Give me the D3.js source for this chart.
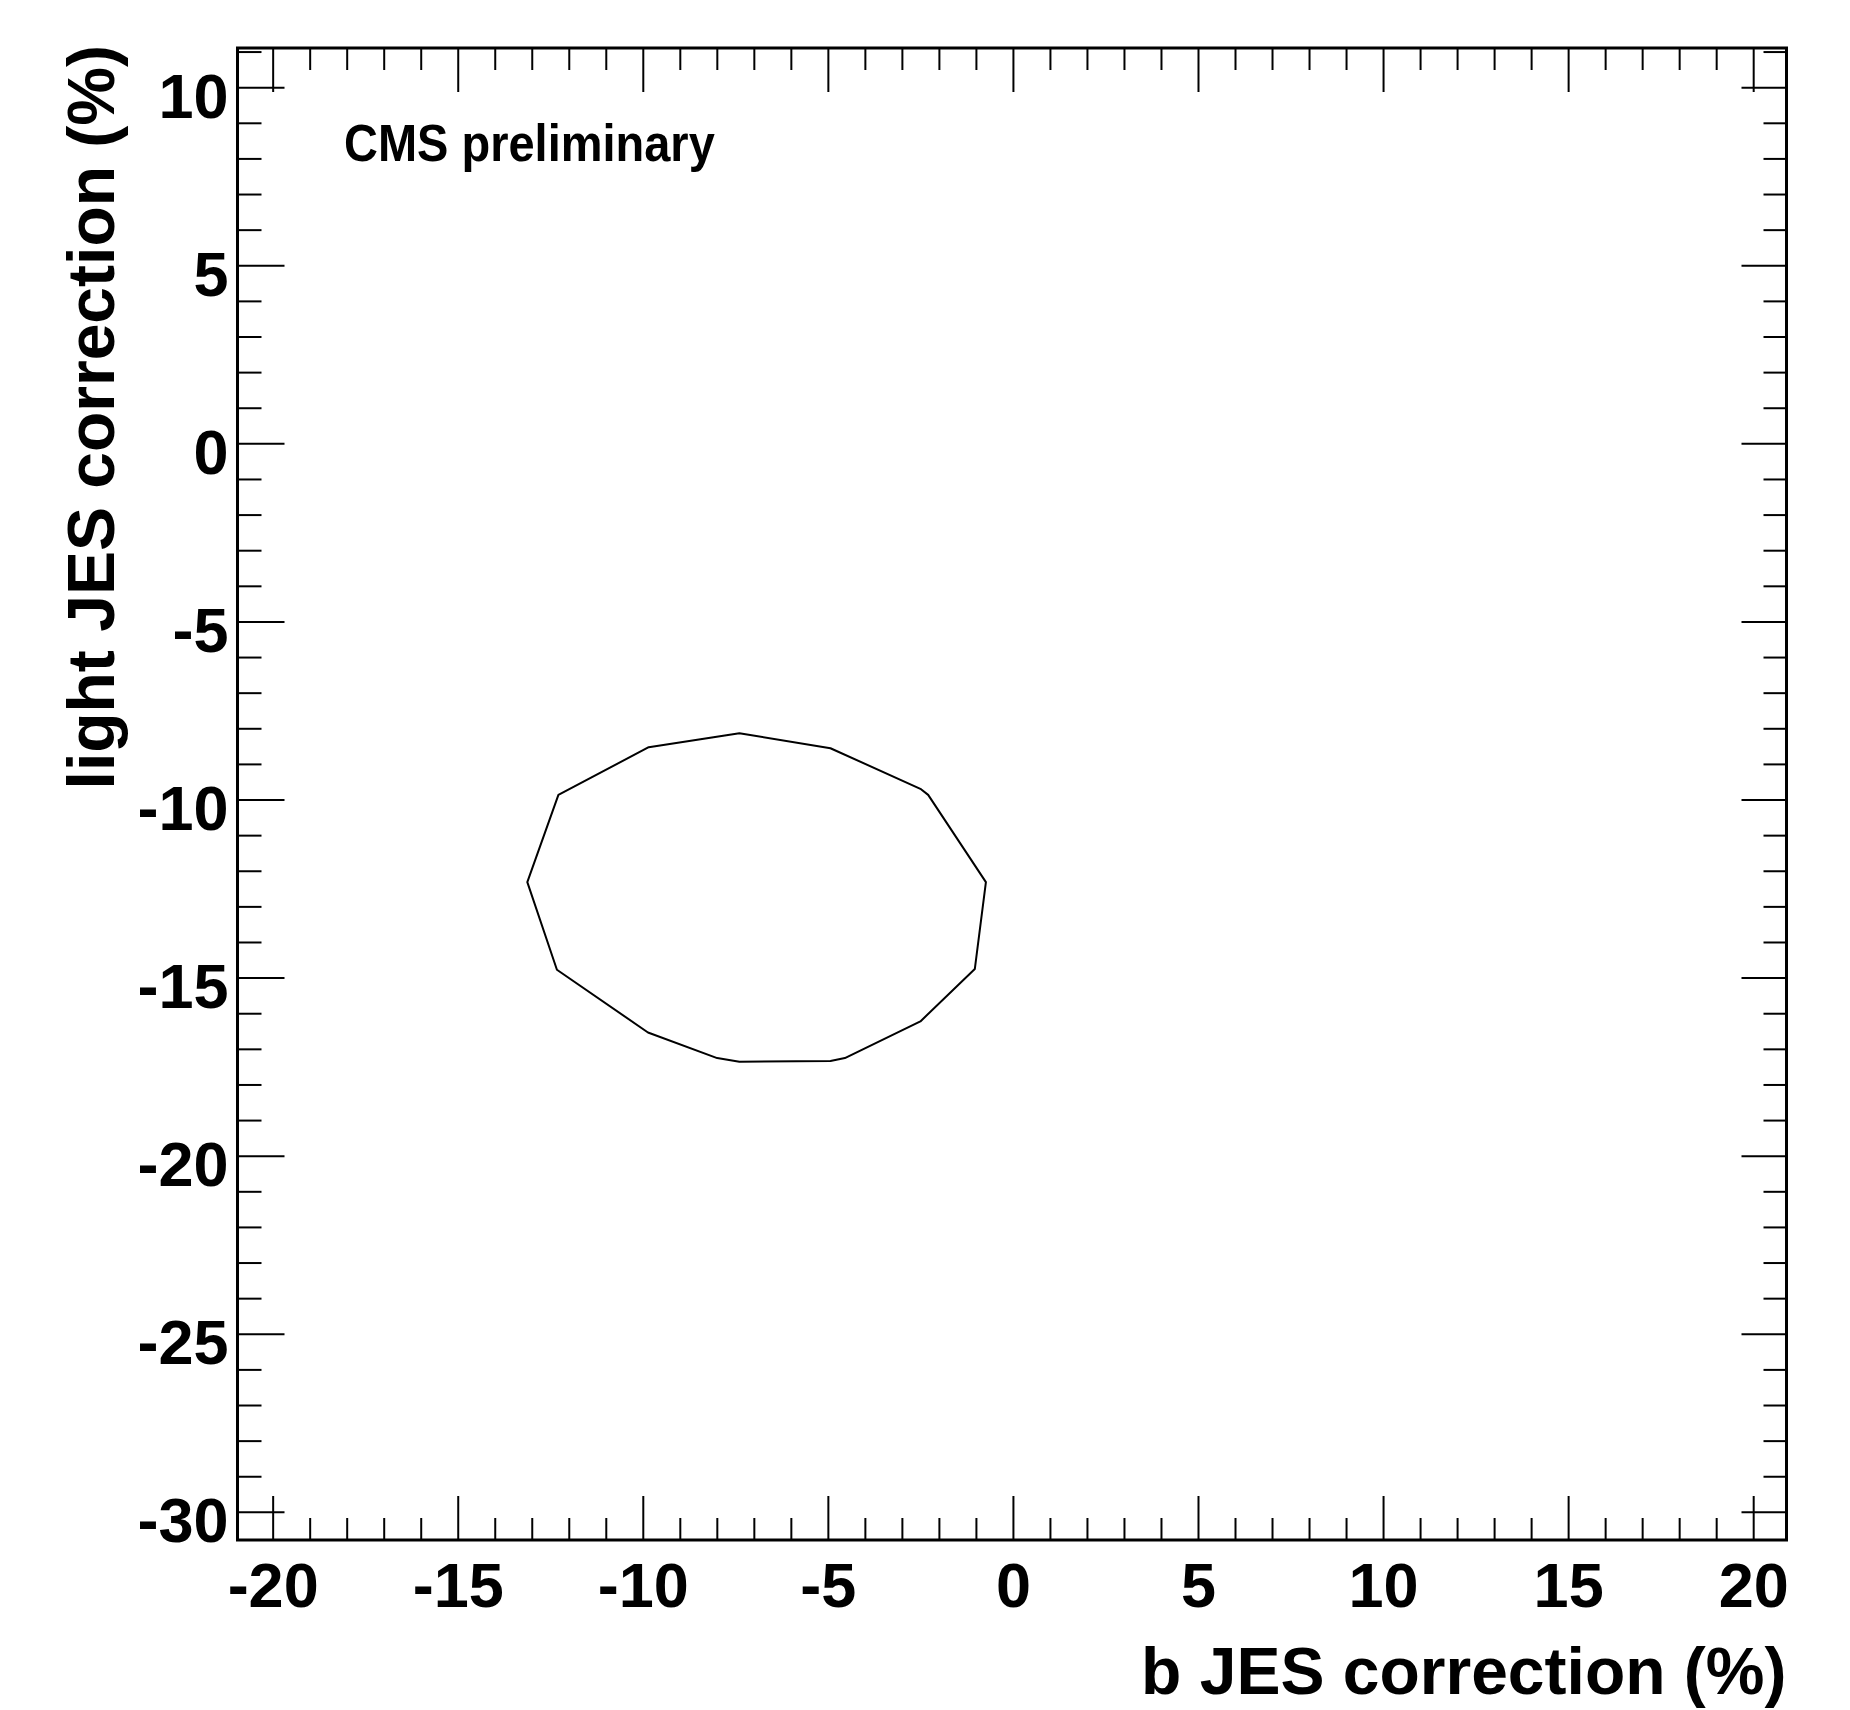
<!DOCTYPE html>
<html>
<head>
<meta charset="utf-8">
<script src="https://cdn.jsdelivr.net/npm/d3@7"></script>
<style>
  body { margin: 0; background: #fff; }
  text { font-family: "Liberation Sans", Arial, Helvetica, sans-serif; font-weight: bold; }
</style>
</head>
<body>
<svg id="svg" width="1850" height="1710"></svg>
<script>
const width = 1850;
const height = 1710;

// contour points (b JES %, light JES %)
const contourX = [-7.39, -9.84, -12.28, -13.12, -12.32, -9.86, -7.99, -7.39, -4.93, -4.54, -2.50, -1.03, -0.73, -2.29, -2.50, -4.93];
const contourY = [-8.14, -8.53, -9.87, -12.32, -14.78, -16.54, -17.26, -17.36, -17.34, -17.26, -16.23, -14.76, -12.32, -9.87, -9.70, -8.56];

const xMajor = [-20, -15, -10, -5, 0, 5, 10, 15, 20];
const yMajor = [-30, -25, -20, -15, -10, -5, 0, 5, 10];
const xMinor = d3.range(-20, 21, 1).filter(v => v % 5 !== 0);
const yMinor = d3.range(-30, 12, 1).filter(v => v % 5 !== 0);

const xTitle = 'b JES correction (%)';
const yTitle = 'light JES correction (%)';
const label = 'CMS preliminary';

const frame = { left: 237.5, right: 1786.5, top: 48, bottom: 1540 };

const svg = d3.select('#svg');

svg.append('rect')
  .attr('width', width)
  .attr('height', height)
  .attr('fill', '#fff');

const xScale = d3.scaleLinear()
  .domain([-20.95, 20.9])
  .range([frame.left, frame.right]);

const yScale = d3.scaleLinear()
  .domain([-30.79, 11.1])
  .range([frame.bottom, frame.top]);

// ticks point inwards, like ROOT
function drawAxis(axis, tx, ty) {
  const g = svg.append('g')
    .attr('transform', 'translate(' + tx + ',' + ty + ')')
    .call(axis);
  g.select('.domain').remove();
  g.selectAll('line').attr('stroke', '#000').attr('stroke-width', 2);
  return g;
}

const xBottom = drawAxis(d3.axisBottom(xScale).tickValues(xMajor).tickSizeInner(-44).tickSizeOuter(0), 0, frame.bottom);
xBottom.selectAll('text')
  .attr('y', 67)
  .attr('dy', 0)
  .attr('fill', '#000')
  .style('font-size', '63px')
  .text(d => d);

drawAxis(d3.axisBottom(xScale).tickValues(xMinor).tickSizeInner(-22).tickSizeOuter(0).tickFormat(''), 0, frame.bottom);
drawAxis(d3.axisTop(xScale).tickValues(xMajor).tickSizeInner(-44).tickSizeOuter(0).tickFormat(''), 0, frame.top);
drawAxis(d3.axisTop(xScale).tickValues(xMinor).tickSizeInner(-22).tickSizeOuter(0).tickFormat(''), 0, frame.top);

const yLeft = drawAxis(d3.axisLeft(yScale).tickValues(yMajor).tickSizeInner(-47).tickSizeOuter(0), frame.left, 0);
yLeft.selectAll('text')
  .attr('x', -9)
  .attr('y', 30)
  .attr('dy', 0)
  .attr('fill', '#000')
  .style('font-size', '63px')
  .text(d => d);

drawAxis(d3.axisLeft(yScale).tickValues(yMinor).tickSizeInner(-24).tickSizeOuter(0).tickFormat(''), frame.left, 0);
drawAxis(d3.axisRight(yScale).tickValues(yMajor).tickSizeInner(-45).tickSizeOuter(0).tickFormat(''), frame.right, 0);
drawAxis(d3.axisRight(yScale).tickValues(yMinor).tickSizeInner(-23).tickSizeOuter(0).tickFormat(''), frame.right, 0);

svg.append('rect')
  .attr('x', frame.left)
  .attr('y', frame.top)
  .attr('width', frame.right - frame.left)
  .attr('height', frame.bottom - frame.top)
  .attr('fill', 'none')
  .attr('stroke', '#000')
  .attr('stroke-width', 3);

// contour
const pts = contourX.map((x, i) => [x, contourY[i]]);
const line = d3.line()
  .x(d => xScale(d[0]))
  .y(d => yScale(d[1]))
  .curve(d3.curveLinearClosed);

svg.append('path')
  .attr('d', line(pts))
  .attr('fill', 'none')
  .attr('stroke', '#000')
  .attr('stroke-width', 2)
  .attr('stroke-linejoin', 'round');

// titles
svg.append('text')
  .attr('x', frame.right)
  .attr('y', 1694)
  .attr('text-anchor', 'end')
  .style('font-size', '66px')
  .text(xTitle);

svg.append('text')
  .attr('transform', 'translate(114,45) rotate(-90)')
  .attr('text-anchor', 'end')
  .style('font-size', '66px')
  .text(yTitle);

svg.append('text')
  .attr('transform', 'translate(344,161) scale(1,1.1)')
  .style('font-size', '47px')
  .text(label);
</script>
</body>
</html>
